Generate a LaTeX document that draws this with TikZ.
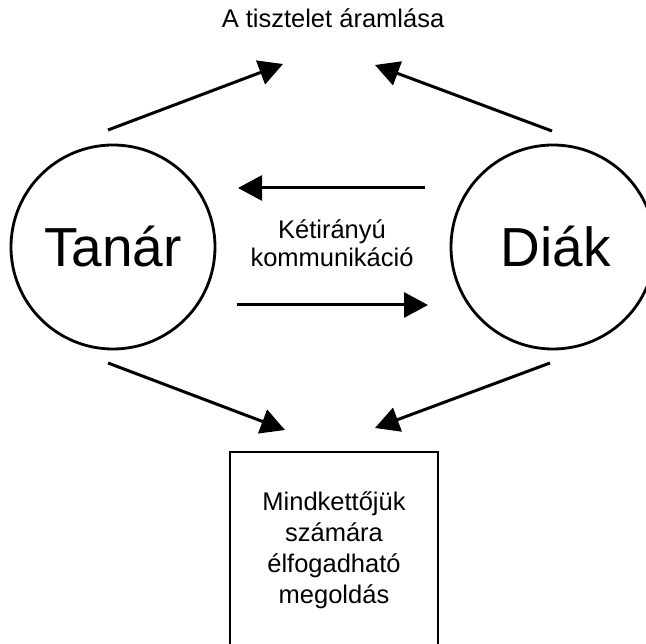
\documentclass[tikz,border=0pt]{standalone}
\usepackage{fontspec}
\setmainfont{Liberation Sans}
\usetikzlibrary{arrows.meta}
\begin{document}
\begin{tikzpicture}[x=1pt,y=-1pt,
  arr/.style={line width=3pt,-{Triangle[length=24pt,width=25pt]}},
  ring/.style={draw,circle,line width=2.8pt,minimum size=204pt,inner sep=0pt},
  big/.style={font=\fontsize{55}{60}\selectfont,anchor=base,inner sep=0pt},
  mid/.style={font=\fontsize{25.5}{28}\selectfont,align=center,inner sep=0pt}]
\useasboundingbox (0,0) rectangle (646,644);
\clip (0,0) rectangle (646,644);
\node[mid,anchor=base] (title) at (333,28) {A tisztelet áramlása};
\node[ring] (tanar) at (113,247) {};
\node[big] (tanartext) at (113,267) {Tanár};
\node[ring] (diak) at (553,247) {};
\node[big] (diaktext) at (556,267) {Diák};
\node[mid] (komm) at (332,243) {Kétirányú\\kommunikáció};
\node[draw,line width=2.8pt,minimum width=208pt,minimum height=196pt,inner sep=0pt,
      font=\fontsize{25.5}{31}\selectfont,align=center] (box) at (334,550)
      {Mindkettőjük\\számára\\élfogadható\\megoldás};
\coordinate (ulA) at (108,130); \coordinate (ulB) at (283,64);
\coordinate (urA) at (552,131); \coordinate (urB) at (375,65);
\coordinate (htA) at (425,188); \coordinate (htB) at (238,188);
\coordinate (hbA) at (237,305); \coordinate (hbB) at (428,305);
\coordinate (llA) at (108,363); \coordinate (llB) at (285,430);
\coordinate (lrA) at (550,363); \coordinate (lrB) at (375,428);
\draw[arr] (ulA) -- (ulB);
\draw[arr] (urA) -- (urB);
\draw[arr] (htA) -- (htB);
\draw[arr] (hbA) -- (hbB);
\draw[arr] (llA) -- (llB);
\draw[arr] (lrA) -- (lrB);
\end{tikzpicture}
\end{document}
